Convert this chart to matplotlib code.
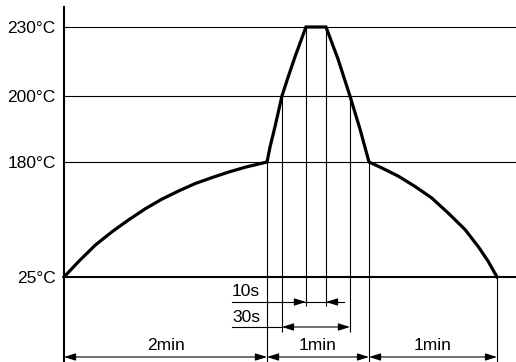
import numpy as np
import matplotlib
matplotlib.use("Agg")
from matplotlib import pyplot as plt

plt.rcParams['font.family'] = ['Liberation Sans', 'DejaVu Sans']

# reflow profile (time in s, temperature in degC)
profile_time = [0, 8.7, 18.5, 28.4, 38.2, 48.1, 57.9, 67.8, 77.6, 87.5, 97.4, 107.2, 120,
                121.8, 124.7, 128.8, 132.5, 136.5, 142.9, 154.7,
                161.8, 168.8, 174.7, 180,
                186.0, 193.7, 201.6, 209.4, 217.2, 225.0, 231.2, 235.9, 240]
profile_temp = [25, 46, 68, 86, 102, 117, 130, 141, 151, 159, 166.5, 173, 180,
                184.6, 190.7, 200, 208.4, 217.1, 230, 230,
                216, 200, 190, 180,
                172, 161, 147, 131.5, 111, 89, 66, 46, 25]

level_temps = [25, 180, 200, 230]
level_labels = ["25°C", "180°C", "200°C", "230°C"]

phase_bounds = [0, 120, 180, 240]
phase_labels = ["2min", "1min", "1min"]

above_200 = (128.8, 168.8)   # 30s
peak_hold = (142.9, 154.7)   # 10s

# schematic axes: the drawing is not to scale, so use piecewise linear scales
time_keys, time_pos = [0, 120, 180, 240], [64, 267, 369, 497]
temp_keys, temp_pos = [25, 180, 200, 230], [85, 200, 266, 335]


def piecewise(keys, vals):
    keys = np.asarray(keys, float)
    vals = np.asarray(vals, float)
    s0 = (vals[1] - vals[0]) / (keys[1] - keys[0])
    s1 = (vals[-1] - vals[-2]) / (keys[-1] - keys[-2])

    def f(x):
        x = np.asarray(x, float)
        y = np.interp(x, keys, vals)
        y = np.where(x < keys[0], vals[0] + (x - keys[0]) * s0, y)
        y = np.where(x > keys[-1], vals[-1] + (x - keys[-1]) * s1, y)
        return y
    return f


fx, fx_inv = piecewise(time_keys, time_pos), piecewise(time_pos, time_keys)
fy, fy_inv = piecewise(temp_keys, temp_pos), piecewise(temp_pos, temp_keys)

W, H = 516, 362
fig = plt.figure(figsize=(W / 100, H / 100), dpi=100)
ax = fig.add_axes([0, 0, 1, 1])
ax.set_xscale('function', functions=(fx, fx_inv))
ax.set_yscale('function', functions=(fy, fy_inv))
x0, x1 = float(fx_inv(0)), float(fx_inv(W))
ax.set_xlim(x0, x1)
ax.set_ylim(float(fy_inv(0)), float(fy_inv(H)))


def temp_at_px(py):
    # temperature value for a row counted from the top of the picture
    return float(fy_inv(H - py))


def frac_at_px(py):
    return (H - py) / H


for s in ['top', 'right', 'bottom']:
    ax.spines[s].set_visible(False)
ax.spines['left'].set_position(('data', 0))
ax.spines['left'].set_bounds(temp_at_px(H), temp_at_px(7))
ax.spines['left'].set_linewidth(1.5)
ax.set_xticks([])
ax.set_yticks(level_temps, level_labels)
ax.tick_params(axis='y', length=0, pad=6, labelsize=12.5)
ax.minorticks_off()

# temperature levels
for t in level_temps:
    ax.hlines(t, 0, x1, color='black', lw=1.5 if t == 25 else 0.8, clip_on=False)

# guide lines from the curve down to the dimension lines
guides = [(phase_bounds[1], 180, H), (phase_bounds[2], 180, H), (phase_bounds[3], 25, H),
          (above_200[0], 200, 332), (above_200[1], 200, 332),
          (peak_hold[0], 230, 306), (peak_hold[1], 230, 306)]
for t, top, bottom in guides:
    ax.vlines(t, temp_at_px(bottom), top, color='black', lw=0.8)

ax.plot(profile_time, profile_temp, color='black', lw=2.3, solid_joinstyle='miter')

xt = ax.get_xaxis_transform()
head = dict(color='black', lw=0.8, shrinkA=0, shrinkB=0, mutation_scale=10)
both = dict(arrowstyle='<|-|>,head_length=0.7,head_width=0.22', **head)
one = dict(arrowstyle='-|>,head_length=0.7,head_width=0.22', **head)

# phase durations along the bottom
yb = frac_at_px(357)
for a, b, lab in zip(phase_bounds[:-1], phase_bounds[1:], phase_labels):
    ax.annotate('', xy=(b, yb), xytext=(a, yb), xycoords=xt, arrowprops=both)
    mid = float(fx_inv((fx(a) + fx(b)) / 2))
    ax.text(mid, frac_at_px(345), lab, transform=xt, ha='center', va='center', fontsize=12.5)

# 30s above 200 degC
left_px = 232
y30 = frac_at_px(327)
ax.plot([float(fx_inv(left_px)), above_200[0]], [y30, y30], transform=xt, color='black', lw=0.8)
ax.annotate('', xy=(above_200[1], y30), xytext=(above_200[0], y30), xycoords=xt, arrowprops=both)
ax.text(float(fx_inv(left_px)), frac_at_px(318), "30s", transform=xt, ha='left', va='center', fontsize=12.5)

# 10s at peak
y10 = frac_at_px(302)
ax.plot([float(fx_inv(left_px)), float(fx_inv(344))], [y10, y10], transform=xt, color='black', lw=0.8)
ax.annotate('', xy=(peak_hold[0], y10), xytext=(float(fx_inv(fx(peak_hold[0]) - 8)), y10),
            xycoords=xt, arrowprops=one)
ax.annotate('', xy=(peak_hold[1], y10), xytext=(float(fx_inv(fx(peak_hold[1]) + 8)), y10),
            xycoords=xt, arrowprops=one)
ax.text(float(fx_inv(left_px)), frac_at_px(291), "10s", transform=xt, ha='left', va='center', fontsize=12.5)

fig.savefig("out.png", dpi=100)
